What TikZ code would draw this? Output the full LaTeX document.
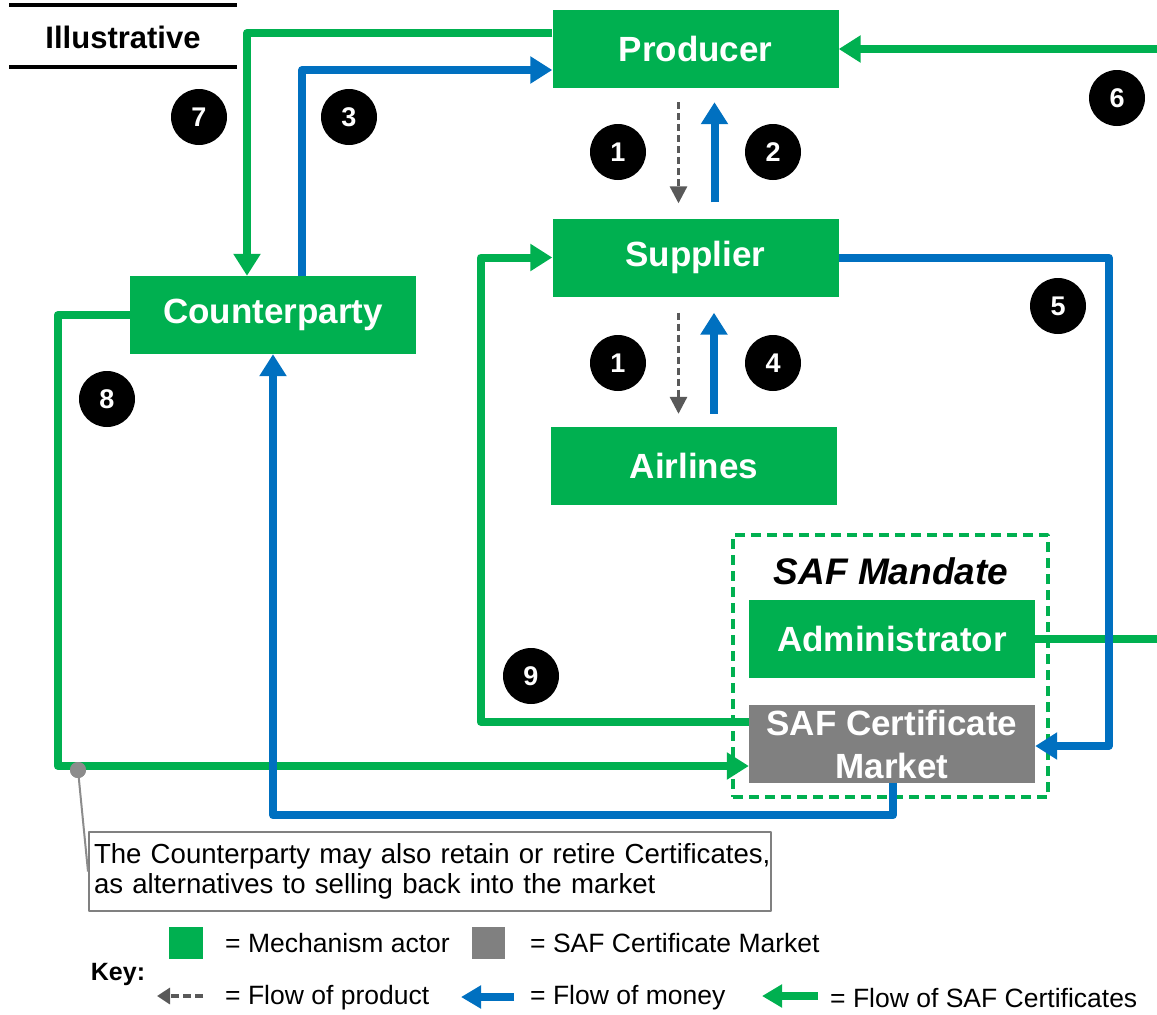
\documentclass[tikz,border=0pt]{standalone}
\usepackage{fontspec}
\setmainfont{Liberation Sans}
\usepackage{xcolor}
\usetikzlibrary{arrows.meta,calc}
\definecolor{safgreen}{RGB}{0,176,80}
\definecolor{safblue}{RGB}{0,112,192}
\definecolor{mktgray}{RGB}{128,128,128}
\definecolor{prodgray}{RGB}{89,89,89}

\begin{document}
\begin{tikzpicture}[x=1pt,y=-1pt,line join=round,
  actor/.style={fill=safgreen,text=white,font=\fontsize{35}{43}\selectfont\bfseries,minimum width=286pt,minimum height=78pt,inner sep=0pt},
  market/.style={actor,fill=mktgray,align=center},
  badge/.style={circle,fill=black,text=white,font=\fontsize{27}{27}\selectfont\bfseries,minimum size=56pt,inner sep=0pt},
  certflow/.style={draw=safgreen,line width=8pt,-{Triangle[length=22pt,width=26pt]}},
  money/.style={draw=safblue,line width=8pt,-{Triangle[length=22pt,width=26pt]}},
  product/.style={draw=prodgray,line width=3pt,dash pattern=on 7pt off 4pt,-{Triangle[length=17pt,width=17pt]}},
  keytext/.style={anchor=west,inner sep=0pt,font=\fontsize{26.5}{28}\selectfont}]
  \useasboundingbox (0,0) rectangle (1157,1015);
  \node[draw=safgreen,line width=3.5pt,dash pattern=on 10pt off 6pt,minimum width=315pt,minimum height=262pt,inner sep=0pt] (mandate) at (890.5,666) {};
  \node[font=\fontsize{37}{40}\selectfont\bfseries\itshape,inner sep=0pt] (mandlbl) at (891,571) {SAF Mandate};
  \node[actor] (prod) at (695.5,49) {Producer};
  \node[actor] (sup) at (695.5,257.5) {Supplier};
  \node[actor] (air) at (694,466) {Airlines};
  \node[actor] (cp) at (273,315) {Counterparty};
  \node[actor] (adm) at (892,639) {Administrator};
  \node[market] (mkt) at (892,744) {SAF Certificate\\Market};
  \coordinate (r6) at (1157,49);
  \coordinate (r11) at (1157,639);
  \draw[certflow] (r6) -- (prod.east);
  \draw[draw=safgreen,line width=8pt] (adm.east) -- (r11);
  \draw[certflow] ([yshift=16pt]prod.west) -| ([xshift=-26pt]cp.north);
  \draw[money] ([xshift=29pt]cp.north) |- ([yshift=-21pt]prod.west);
  \draw[product] ([xshift=-17pt,yshift=-14pt]prod.south) -- ([xshift=-17pt,yshift=15pt]sup.north);
  \draw[money] ([xshift=19pt,yshift=16pt]sup.north) -- ([xshift=19pt,yshift=-14pt]prod.south);
  \draw[product] ([xshift=-17pt,yshift=-16pt]sup.south) -- ([xshift=-15.5pt,yshift=13pt]air.north);
  \draw[money] ([xshift=20pt,yshift=13pt]air.north) -- ([xshift=18.5pt,yshift=-16pt]sup.south);
  \draw[money] (sup.east) -- ++(270,0) |- ([yshift=-2pt]mkt.east);
  \draw[certflow] ([yshift=22pt]mkt.west) -- ++(-268,0) |- (sup.west);
  \draw[certflow] (cp.west) -- ++(-72,0) |- ([yshift=-22pt]mkt.west);
  \draw[money] ([xshift=1pt]mkt.south) -- ++(0,32) -| (cp.south);
  \node[badge] (b7) at (199,117) {7};
  \node[badge] (b3) at (349,117) {3};
  \node[badge] (b1a) at (618,152) {1};
  \node[badge] (b2) at (773,152) {2};
  \node[badge] (b6) at (1117,98) {6};
  \node[badge] (b5) at (1058,306) {5};
  \node[badge] (b1b) at (618,363) {1};
  \node[badge] (b4) at (773,363) {4};
  \node[badge] (b8) at (107,399) {8};
  \node[badge] (b9) at (531,676) {9};
  \node[font=\fontsize{31}{31}\selectfont\bfseries,inner sep=0pt] (illus) at (123,37) {Illustrative};
  \draw[line width=4pt] (9,5) -- (237,5);
  \draw[line width=4pt] (9,67) -- (237,67);
  \node[draw=mktgray,line width=2pt,text width=672pt,minimum height=79pt,inner xsep=5pt,align=left,font=\fontsize{27.6}{30}\selectfont] (note) at (430,871.5) {\mbox{The Counterparty may also retain or retire Certificates,}\\\mbox{as alternatives to selling back into the market}};
  \node[circle,fill=gray!90,minimum size=16pt,inner sep=0pt] (dot) at (78,770) {};
  \draw[gray!90,line width=2pt] (dot.center) -- (note.west);
  \node[circle,fill=gray!90,minimum size=16pt,inner sep=0pt] at (dot) {};
  \node[font=\fontsize{25}{28}\selectfont\bfseries,inner sep=0pt] (key) at (118,974) {Key:};
  \node[fill=safgreen,minimum width=34pt,minimum height=32pt,inner sep=0pt] (keyact) at (186,943) {};
  \node[keytext] (keyacttxt) at (225,943) {= Mechanism actor};
  \node[fill=mktgray,minimum width=33pt,minimum height=32pt,inner sep=0pt] (keymkt) at (488.5,943) {};
  \node[keytext] (keymkttxt) at (530,943) {= SAF Certificate Market};
  \coordinate (kp1) at (203,996);
  \coordinate (kp2) at (157,996);
  \draw[product,line width=4pt,dash pattern=on 8pt off 4pt,-{Triangle[length=13pt,width=16pt]}] (kp1) -- (kp2);
  \node[keytext] (keyprodtxt) at (225,998) {= Flow of product};
  \coordinate (km1) at (514,997);
  \coordinate (km2) at (461,997);
  \draw[money,-{Triangle[length=20pt,width=22pt]}] (km1) -- (km2);
  \node[keytext] (keymontxt) at (530,998) {= Flow of money};
  \coordinate (kc1) at (818,996);
  \coordinate (kc2) at (762,996);
  \draw[certflow,-{Triangle[length=20pt,width=22pt]}] (kc1) -- (kc2);
  \node[keytext] (keycerttxt) at (830,998) {= Flow of SAF Certificates};
\end{tikzpicture}
\end{document}
